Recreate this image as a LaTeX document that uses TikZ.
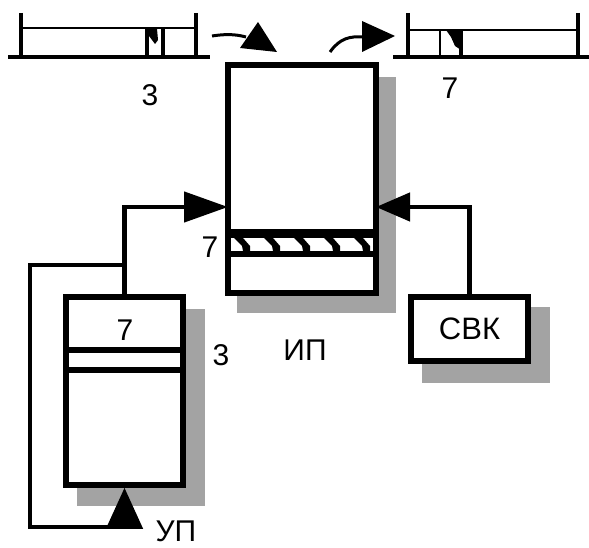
\documentclass[tikz,border=0pt]{standalone}
\usepackage{fontspec}
\setmainfont{Liberation Sans}
\usetikzlibrary{arrows.meta,calc,backgrounds}
\begin{document}
\begin{tikzpicture}[x=1pt,y=-1pt,
  box/.style={draw, line width=5.5pt, fill=white, inner sep=0pt},
  shadowfill/.style={fill=black!36},
  conn/.style={line width=4.5pt},
  lbl/.style={font=\fontsize{30}{32}\selectfont, inner sep=0pt},
  regthick/.style={line width=4pt},
  regthin/.style={line width=2.5pt},
]
\useasboundingbox (0,0) rectangle (589,548);

% boxes
\node[box, minimum width=148pt, minimum height=228pt] (ip) at (302,179) {};
\node[box, minimum width=117pt, minimum height=188pt] (up) at (124.5,391) {};
\node[box, minimum width=117pt, minimum height=64pt, font=\fontsize{31}{32}\selectfont] (svk) at (469.5,329) {СВК};

% shadows
\begin{pgfonlayer}{background}
\fill[shadowfill] ([shift={(12,15)}]ip.north west) rectangle ([shift={(17,17)}]ip.south east);
\fill[shadowfill] ([shift={(14,15)}]up.north west) rectangle ([shift={(19,18)}]up.south east);
\fill[shadowfill] ([shift={(14,13)}]svk.north west) rectangle ([shift={(19,19)}]svk.south east);
\end{pgfonlayer}

% band in IP
\fill (228,229) rectangle (376,238);
\fill (228,251) rectangle (376,257);
\foreach \x in {234,264,294,324,354}{
  \fill (\x,238) -- (\x+9,238) -- (\x+16,246) -- (\x+16,251) -- (\x+9,251) -- (\x+8,246) -- cycle;
}

% inner lines of UP
\draw[line width=5.5pt] (66,350) -- (183,350);
\draw[line width=5.5pt] (66,370) -- (183,370);

% connectors
\coordinate (ipinL) at (228,207);
\coordinate (ipinR) at (376,207);
\coordinate (j1) at (124.5,265);
\coordinate (c1) at (30,265);
\coordinate (c2) at (30,527);
\coordinate (c3) at (124.5,527);
\draw[conn, -{Triangle[length=44pt,width=30pt]}] (up.north) |- (ipinL);
\draw[conn, -{Triangle[length=34pt,width=28pt]}] (svk.north) |- (ipinR);
\draw[conn, line join=miter, -{Triangle[length=41pt,width=36pt]}] (j1) -- (c1) -- (c2) -- (c3) -- (up.south);

% register 1
\draw[regthick] (8,57) -- (210,57);
\draw[regthick] (21,13) -- (21,57);
\draw[regthick] (196,13) -- (196,57);
\draw[regthin] (21,28) -- (196,28);
\draw[regthick] (147,28) -- (147,57);
\draw[regthick] (163,28) -- (163,57);
\fill (147,29) -- (157,29) -- (158,40) -- (155,44) -- (149,36) -- cycle;

% register 2
\draw[regthick] (393,57) -- (589,57);
\draw[regthick] (408,13) -- (408,57);
\draw[regthick] (578,13) -- (578,57);
\draw[regthin] (408,30) -- (578,30);
\draw[regthin] (440,30) -- (440,57);
\draw[regthick] (461,30) -- (461,57);
\fill (446,30) -- (461,30) -- (461,50) -- (455,46) -- (451,37) -- cycle;

% top arrows
\coordinate (a1s) at (212,36);
\coordinate (a1e) at (246,37);
\draw[line width=3pt] (a1s) .. controls (225,34) and (235,34) .. (a1e);
\fill (258,22) -- (240,48) -- (277,52) -- cycle;
\coordinate (a2s) at (330,52);
\coordinate (a2e) at (364,37);
\draw[line width=3pt] (a2s) .. controls (340,38) and (350,36) .. (a2e);
\fill (362,21) -- (362,52) -- (395,36) -- cycle;

% labels
\node[lbl] (l3a) at (150,95) {3};
\node[lbl] (l7a) at (450,88) {7};
\node[lbl] (l7b) at (210,247) {7};
\node[lbl] (l7c) at (125,330) {7};
\node[lbl] (l3b) at (221,355) {3};
\node[lbl] (lip) at (305,350) {ИП};
\node[lbl] (lup) at (176,531) {УП};
\end{tikzpicture}
\end{document}
